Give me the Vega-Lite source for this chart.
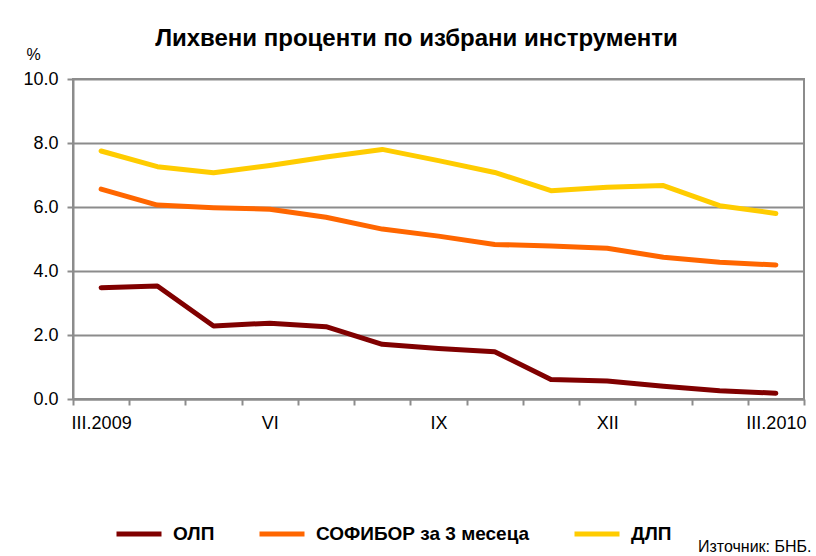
{
  "$schema": "https://vega.github.io/schema/vega-lite/v6.json",
  "width": 731,
  "height": 320,
  "autosize": {"type": "none"},
  "padding": {"left": 73, "top": 79, "right": 12, "bottom": 157},
  "background": "white",
  "config": {
    "font": "Liberation Sans",
    "view": {"stroke": "#8c8c8c", "strokeWidth": 2},
    "axis": {"labelColor": "black", "titleColor": "black"}
  },
  "title": {
    "text": "Лихвени проценти по избрани инструменти",
    "fontSize": 24,
    "fontWeight": "bold",
    "color": "black",
    "anchor": "middle",
    "frame": "group",
    "dx": -22,
    "dy": 24,
    "offset": 0,
    "baseline": "alphabetic"
  },
  "data": {
    "values": [
      {"m": "III.2009", "s": "ОЛП", "v": 3.48},
      {"m": "IV", "s": "ОЛП", "v": 3.53},
      {"m": "V", "s": "ОЛП", "v": 2.28},
      {"m": "VI", "s": "ОЛП", "v": 2.37},
      {"m": "VII", "s": "ОЛП", "v": 2.26},
      {"m": "VIII", "s": "ОЛП", "v": 1.71},
      {"m": "IX", "s": "ОЛП", "v": 1.58},
      {"m": "X", "s": "ОЛП", "v": 1.48},
      {"m": "XI", "s": "ОЛП", "v": 0.61},
      {"m": "XII", "s": "ОЛП", "v": 0.56},
      {"m": "I", "s": "ОЛП", "v": 0.4},
      {"m": "II", "s": "ОЛП", "v": 0.26},
      {"m": "III.2010", "s": "ОЛП", "v": 0.18},
      {"m": "III.2009", "s": "СОФИБОР за 3 месеца", "v": 6.56},
      {"m": "IV", "s": "СОФИБОР за 3 месеца", "v": 6.06},
      {"m": "V", "s": "СОФИБОР за 3 месеца", "v": 5.98},
      {"m": "VI", "s": "СОФИБОР за 3 месеца", "v": 5.93},
      {"m": "VII", "s": "СОФИБОР за 3 месеца", "v": 5.68},
      {"m": "VIII", "s": "СОФИБОР за 3 месеца", "v": 5.31},
      {"m": "IX", "s": "СОФИБОР за 3 месеца", "v": 5.09},
      {"m": "X", "s": "СОФИБОР за 3 месеца", "v": 4.83},
      {"m": "XI", "s": "СОФИБОР за 3 месеца", "v": 4.78},
      {"m": "XII", "s": "СОФИБОР за 3 месеца", "v": 4.71},
      {"m": "I", "s": "СОФИБОР за 3 месеца", "v": 4.43},
      {"m": "II", "s": "СОФИБОР за 3 месеца", "v": 4.27},
      {"m": "III.2010", "s": "СОФИБОР за 3 месеца", "v": 4.19},
      {"m": "III.2009", "s": "ДЛП", "v": 7.75},
      {"m": "IV", "s": "ДЛП", "v": 7.26},
      {"m": "V", "s": "ДЛП", "v": 7.07},
      {"m": "VI", "s": "ДЛП", "v": 7.3},
      {"m": "VII", "s": "ДЛП", "v": 7.56},
      {"m": "VIII", "s": "ДЛП", "v": 7.8},
      {"m": "IX", "s": "ДЛП", "v": 7.45},
      {"m": "X", "s": "ДЛП", "v": 7.08},
      {"m": "XI", "s": "ДЛП", "v": 6.51},
      {"m": "XII", "s": "ДЛП", "v": 6.62},
      {"m": "I", "s": "ДЛП", "v": 6.67},
      {"m": "II", "s": "ДЛП", "v": 6.04},
      {"m": "III.2010", "s": "ДЛП", "v": 5.8}
    ]
  },
  "mark": {"type": "line", "strokeWidth": 5, "strokeCap": "round", "strokeJoin": "round"},
  "encoding": {
    "x": {
      "field": "m",
      "type": "nominal",
      "sort": ["III.2009", "IV", "V", "VI", "VII", "VIII", "IX", "X", "XI", "XII", "I", "II", "III.2010"],
      "scale": {"type": "band", "paddingInner": 0, "paddingOuter": 0},
      "axis": {
        "title": "Източник: БНБ.",
        "titleFontSize": 16,
        "titleFontWeight": "normal",
        "titleAnchor": "end",
        "titleAlign": "right",
        "titleBaseline": "alphabetic",
        "titleX": 738,
        "titleY": 152,
        "labelAngle": 0,
        "labelFontSize": 18,
        "labelPadding": 9,
        "labelExpr": "indexof(['III.2009','VI','IX','XII','III.2010'], datum.value) >= 0 ? datum.value : ''",
        "tickBand": "extent",
        "tickSize": 6,
        "tickWidth": 2,
        "tickColor": "#8c8c8c",
        "domainColor": "#8c8c8c",
        "domainWidth": 2,
        "grid": false
      }
    },
    "y": {
      "field": "v",
      "type": "quantitative",
      "scale": {"domain": [0, 10], "nice": false},
      "axis": {
        "values": [0, 2, 4, 6, 8, 10],
        "format": ".1f",
        "title": "%",
        "titleAngle": 0,
        "titleX": -40,
        "titleY": -20,
        "titleAlign": "center",
        "titleBaseline": "alphabetic",
        "titleFontSize": 16,
        "titleFontWeight": "normal",
        "labelFontSize": 18,
        "labelPadding": 9,
        "tickSize": 6,
        "tickWidth": 2,
        "tickColor": "#8c8c8c",
        "domainColor": "#8c8c8c",
        "domainWidth": 2,
        "grid": true,
        "gridColor": "#8c8c8c",
        "gridWidth": 2
      }
    },
    "color": {
      "field": "s",
      "type": "nominal",
      "scale": {
        "domain": ["ОЛП", "СОФИБОР за 3 месеца", "ДЛП"],
        "range": ["#800000", "#ff6600", "#ffcc00"]
      },
      "legend": {
        "title": null,
        "orient": "none",
        "direction": "horizontal",
        "legendX": 41,
        "legendY": 430,
        "padding": 0,
        "symbolType": "stroke",
        "symbolSize": 2025,
        "symbolStrokeWidth": 5,
        "labelFontSize": 19,
        "labelFontWeight": "bold",
        "labelColor": "black",
        "labelOffset": 9,
        "columnPadding": 34,
        "labelLimit": 400
      }
    }
  }
}
